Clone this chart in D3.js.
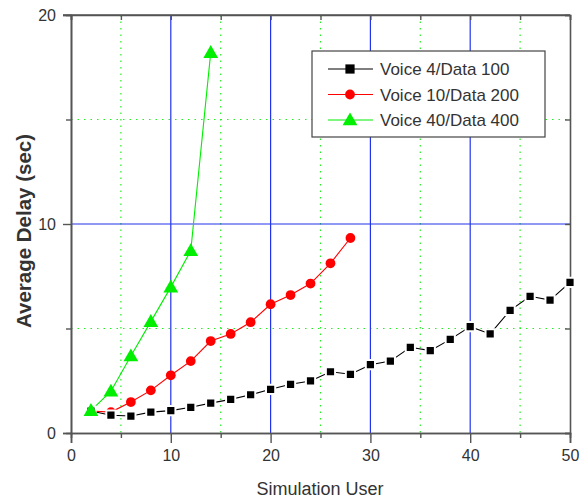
<!DOCTYPE html>
<html lang="en">
<head>
<meta charset="UTF-8">
<title>Average Delay</title>
<script src="https://d3js.org/d3.v7.min.js"></script>
<style>
  body, html { margin: 0; background: #fff; overflow: hidden; }
  text { font-family: Arial, "Liberation Sans", sans-serif; fill: #333; }
</style>
</head>
<body>
<script>
// data
const users4 = [2, 4, 6, 8, 10, 12, 14, 16, 18, 20, 22, 24, 26, 28, 30, 32, 34, 36, 38, 40, 42, 44, 46, 48, 50];
const delay4 = [1.05, 0.85, 0.81, 1.0, 1.07, 1.23, 1.43, 1.61, 1.83, 2.09, 2.33, 2.49, 2.93, 2.81, 3.27, 3.44, 4.10, 3.94, 4.48, 5.09, 4.74, 5.87, 6.54, 6.36, 7.21];
const users10 = [2, 4, 6, 8, 10, 12, 14, 16, 18, 20, 22, 24, 26, 28];
const delay10 = [1.05, 1.0, 1.48, 2.04, 2.76, 3.44, 4.40, 4.74, 5.30, 6.16, 6.60, 7.15, 8.12, 9.33];
const users40 = [2, 4, 6, 8, 10, 12, 14];
const delay40 = [1.07, 2.0, 3.68, 5.33, 6.98, 8.72, 18.2];

const seriesNames = ["Voice 4/Data 100", "Voice 10/Data 200", "Voice 40/Data 400"];
const seriesColors = ["#000000", "#ff0000", "#00ee00"];
const seriesSymbols = [d3.symbolSquare, d3.symbolCircle, d3.symbolTriangle];
const xTicks = [0, 10, 20, 30, 40, 50];
const xMinor = [5, 15, 25, 35, 45];
const yTicks = [0, 10, 20];
const yMinor = [5, 15];

(function () {
const W = 583, H = 499;
const pL = 71, pR = 570, pT = 15, pB = 433;

const svg = d3.select("body").append("svg").attr("width", W).attr("height", H);

const x = d3.scaleLinear().domain([0, 50]).range([pL, pR]);
const y = d3.scaleLinear().domain([0, 20]).range([pB, pT]);

// grid: green dotted at minor ticks, blue at majors
const grid = svg.append("g");
xMinor.forEach(v => grid.append("line")
  .attr("x1", x(v)).attr("x2", x(v)).attr("y1", pT).attr("y2", pB)
  .attr("stroke", "#22ee22").attr("stroke-width", 1.2).attr("stroke-dasharray", "1.5,5"));
yMinor.forEach(v => grid.append("line")
  .attr("x1", pL).attr("x2", pR).attr("y1", y(v)).attr("y2", y(v))
  .attr("stroke", "#22ee22").attr("stroke-width", 1.2).attr("stroke-dasharray", "1.5,5"));
xTicks.slice(1, -1).forEach(v => grid.append("line")
  .attr("x1", x(v)).attr("x2", x(v)).attr("y1", pT).attr("y2", pB)
  .attr("stroke", "#2233ee").attr("stroke-width", 1.2));
yTicks.slice(1, -1).forEach(v => grid.append("line")
  .attr("x1", pL).attr("x2", pR).attr("y1", y(v)).attr("y2", y(v))
  .attr("stroke", "#2233ee").attr("stroke-width", 1.2));

// axes
const xAxis = d3.axisBottom(x).tickValues(xTicks).tickSize(10).tickPadding(7);
const xAxisMinor = d3.axisBottom(x).tickValues(xMinor).tickSize(5).tickFormat("");
const yAxis = d3.axisLeft(y).tickValues(yTicks).tickSize(8).tickPadding(7);
const yAxisMinor = d3.axisLeft(y).tickValues(yMinor).tickSize(5).tickFormat("");
const xTop = d3.axisTop(x).tickValues(xTicks.concat(xMinor)).tickSize(-5).tickFormat("");
const yRight = d3.axisRight(y).tickValues(yTicks.concat(yMinor)).tickSize(-5).tickFormat("");

function styleAxis(g) {
  g.selectAll(".domain").attr("stroke", "#555").attr("stroke-width", 1.6);
  g.selectAll(".tick line").attr("stroke", "#555").attr("stroke-width", 1.4);
  g.selectAll(".tick text").style("font-size", "16px").attr("fill", "#444")
    .style("font-family", "Arial, 'Liberation Sans', sans-serif");
}
svg.append("g").attr("transform", `translate(0,${pB})`).call(xAxis).call(styleAxis);
svg.append("g").attr("transform", `translate(0,${pB})`).call(xAxisMinor).call(styleAxis);
svg.append("g").attr("transform", `translate(${pL},0)`).call(yAxis).call(styleAxis);
svg.append("g").attr("transform", `translate(${pL},0)`).call(yAxisMinor).call(styleAxis);
svg.append("g").attr("transform", `translate(0,${pT})`).call(xTop).call(styleAxis);
svg.append("g").attr("transform", `translate(${pR},0)`).call(yRight).call(styleAxis);
// top frame extends out over the 20 tick
svg.append("line").attr("x1", pL - 8).attr("x2", pR).attr("y1", pT).attr("y2", pT)
  .attr("stroke", "#555").attr("stroke-width", 1.6);

// series
const series = [
  { xs: users4, ys: delay4 },
  { xs: users10, ys: delay10 },
  { xs: users40, ys: delay40 }
];
const line = d3.line().x(d => x(d[0])).y(d => y(d[1]));
const symSizes = [85, 75, 95];

series.forEach((s, i) => {
  const pts = s.xs.map((v, j) => [v, s.ys[j]]);
  svg.append("path").datum(pts)
    .attr("d", line).attr("fill", "none")
    .attr("stroke", seriesColors[i]).attr("stroke-width", 1.1);
});
// markers, green last so the first triangle sits on top
[1, 0, 2].forEach(i => {
  const s = series[i];
  const pts = s.xs.map((v, j) => [v, s.ys[j]]);
  svg.append("g").selectAll("path").data(pts).join("path")
    .attr("transform", d => `translate(${x(d[0])},${y(d[1]) + (i === 2 ? 1 : 0)})`)
    .attr("d", d3.symbol().type(seriesSymbols[i]).size(symSizes[i]))
    .attr("fill", seriesColors[i])
    .attr("stroke", i === 0 ? "#fff" : "none")
    .attr("stroke-width", i === 0 ? 2 : 0);
});

// legend
const lg = svg.append("g");
lg.append("rect").attr("x", 312).attr("y", 51).attr("width", 233).attr("height", 86)
  .attr("fill", "#fff").attr("stroke", "#444").attr("stroke-width", 1.2);
seriesNames.forEach((name, i) => {
  const ly = 69 + i * 25.5;
  lg.append("line").attr("x1", 328).attr("x2", 373).attr("y1", ly).attr("y2", ly)
    .attr("stroke", seriesColors[i]).attr("stroke-width", 1.1);
  lg.append("path").attr("transform", `translate(350,${ly + (i === 2 ? 1 : 0)})`)
    .attr("d", d3.symbol().type(seriesSymbols[i]).size(symSizes[i]))
    .attr("fill", seriesColors[i]);
  lg.append("text").attr("x", 380).attr("y", ly).attr("dy", "0.36em")
    .style("font-size", "17px").attr("fill", "#444").text(name);
});

// axis titles
svg.append("text").attr("x", 320).attr("y", 495).attr("text-anchor", "middle")
  .style("font-size", "18px").attr("fill", "#444").text("Simulation User");
svg.append("text").attr("transform", `translate(31,${231}) rotate(-90)`)
  .attr("text-anchor", "middle").style("font-size", "20.5px").style("font-weight", "bold")
  .attr("fill", "#222").text("Average Delay (sec)");
})();
</script>
</body>
</html>
